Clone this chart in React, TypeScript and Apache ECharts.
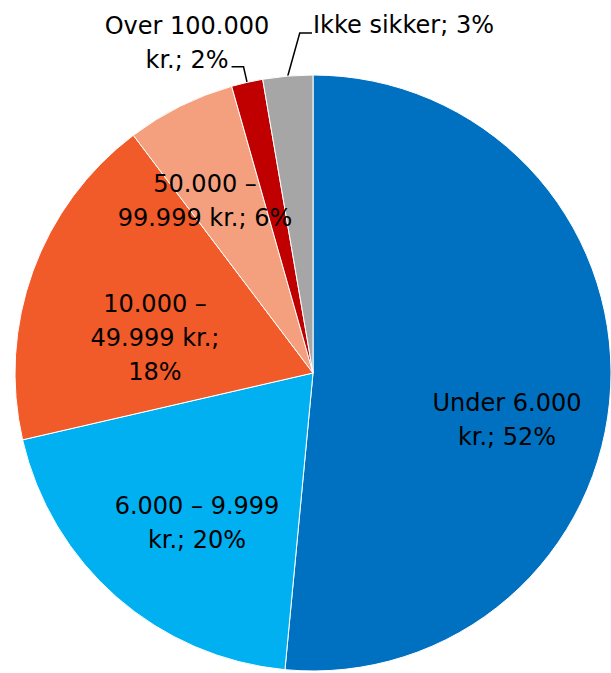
import React, { useEffect, useRef } from "react";
import * as echarts from "echarts";

// Data (percent of respondents)
const categories = [
  "Under 6.000 kr.",
  "6.000 – 9.999 kr.",
  "10.000 – 49.999 kr.",
  "50.000 – 99.999 kr.",
  "Over 100.000 kr.",
  "Ikke sikker",
];
const values = [51.5, 19.9, 18.3, 5.9, 1.7, 2.7];
// How each label's text is wrapped
const labelNames = [
  "Under 6.000\nkr.",
  "6.000 – 9.999\nkr.",
  "10.000 –\n49.999 kr.",
  "50.000 –\n99.999 kr.",
  "Over 100.000\nkr.",
  "Ikke sikker",
];
const labelSeparators = ["; ", "; ", ";\n", "; ", "; ", "; "];
const colors = ["#0070C0", "#00B0F0", "#F15A29", "#F4A07F", "#C00000", "#A6A6A6"];

// Layout (pixels)
const CX = 313;
const CY = 373;
const R = 298;
const labelLayouts = [
  { dx: 194, dy: 47, align: "center", outside: false },
  { dx: -116, dy: 150, align: "center", outside: false },
  { dx: -158, dy: -35, align: "center", outside: false },
  { dx: -108, dy: -172, align: "center", outside: false },
  { dx: -126, dy: -330, align: "center", outside: true },
  { dx: 0, dy: -348, align: "left", outside: true },
];

export default function App() {
  const ref = useRef<HTMLDivElement>(null);
  useEffect(() => {
    document.body.style.margin = "0";
    if (!ref.current) return;
    const chart = echarts.init(ref.current, undefined, { renderer: "svg" });
    const total = values.reduce((a, b) => a + b, 0);
    const midAngles: number[] = [];
    let acc = 0;
    values.forEach((v) => {
      midAngles.push(((acc + v / 2) / total) * 2 * Math.PI);
      acc += v;
    });
    const edge = (i: number) => {
      const a = midAngles[i];
      return [CX + R * Math.sin(a), CY - R * Math.cos(a)];
    };

    chart.setOption({
      animation: false,
      textStyle: { fontFamily: "DejaVu Sans" },
      series: [
        {
          type: "pie",
          center: [CX, CY],
          radius: [0, R],
          startAngle: 90,
          clockwise: true,
          avoidLabelOverlap: false,
          itemStyle: { borderColor: "#ffffff", borderWidth: 1 },
          emphasis: { disabled: true },
          label: {
            color: "#000",
            fontSize: 24,
            lineHeight: 34,
            fontFamily: "DejaVu Sans",
            formatter: (p: any) =>
              labelNames[p.dataIndex] + labelSeparators[p.dataIndex] + Math.round(p.value) + "%",
          },
          labelLine: { lineStyle: { color: "#000", width: 1.5 } },
          labelLayout: (p: any) => {
            const i = p.dataIndex;
            const L = labelLayouts[i];
            const res: any = {
              x: CX + L.dx,
              y: CY + L.dy,
              align: L.align,
              verticalAlign: "middle",
            };
            if (L.outside) {
              const e = edge(i);
              if (i === 4) {
                const a = midAngles[i];
                const b = [e[0] + 16 * Math.sin(a), e[1] - 16 * Math.cos(a)];
                res.labelLinePoints = [e, b, [b[0] - 12, b[1]]];
              } else {
                const b = [e[0] + 12, CY + L.dy + 8];
                res.labelLinePoints = [e, b, [CX - 1, b[1]]];
              }
            }
            return res;
          },
          data: categories.map((name, i) => ({
            name,
            value: values[i],
            itemStyle: { color: colors[i] },
            label: { position: labelLayouts[i].outside ? "outside" : "inside" },
            labelLine: { show: labelLayouts[i].outside },
          })),
        },
      ],
    });
    return () => chart.dispose();
  }, []);
  return <div ref={ref} style={{ width: 611, height: 673 }} />;
}
